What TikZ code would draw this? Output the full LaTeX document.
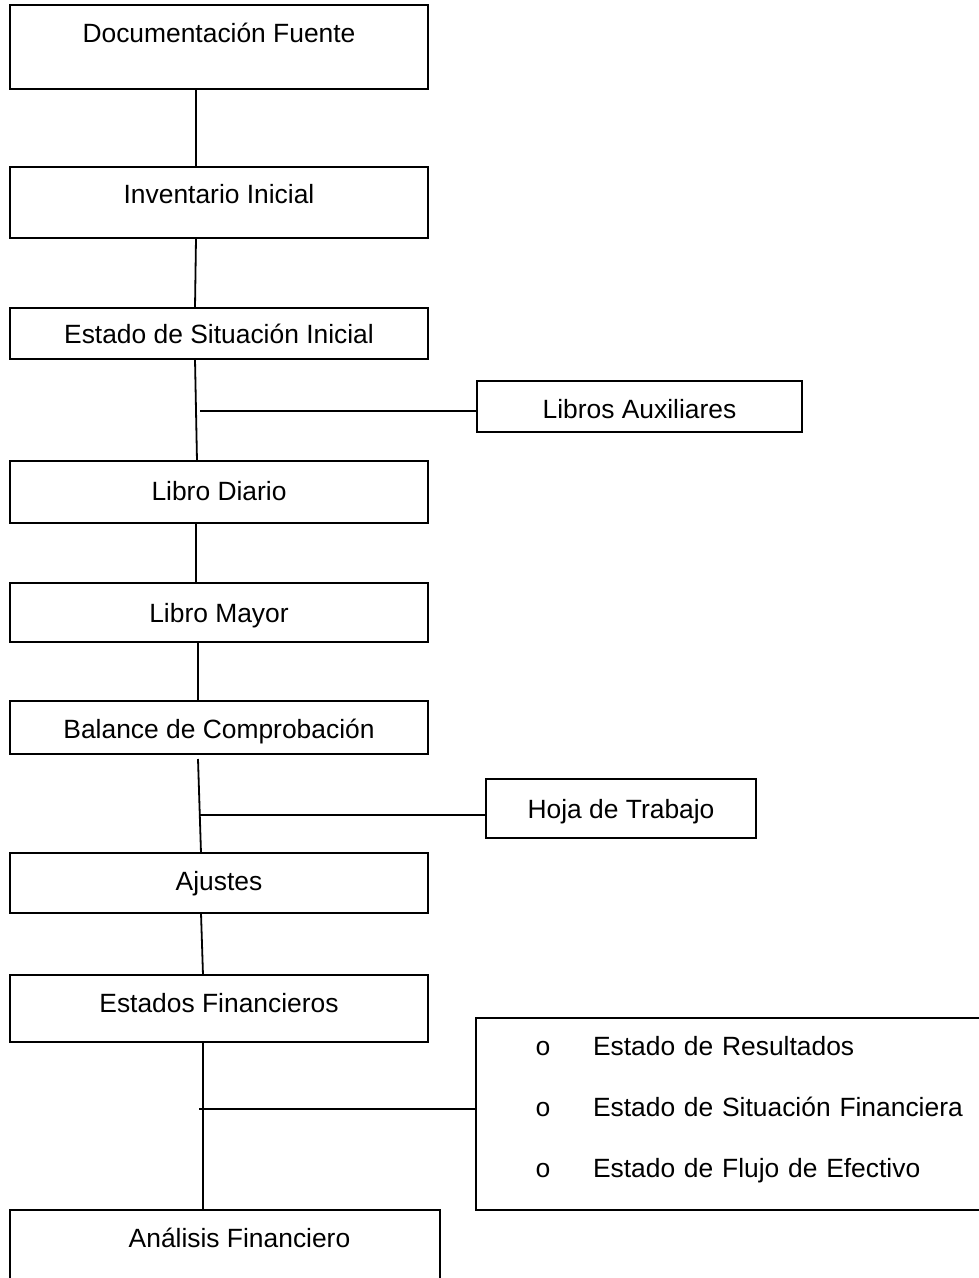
\documentclass[tikz,border=0pt]{standalone}
\usepackage{fontspec}
\setmainfont{Liberation Sans}
\newfontfamily\bulletfont{Liberation Mono}
\begin{document}
\begin{tikzpicture}[x=1pt,y=-1pt,
  stagebox/.style={draw, line width=1.8pt, inner sep=0pt, outer sep=0pt, anchor=north west,
    font=\fontsize{26.4}{32}\selectfont},
  link/.style={line width=1.8pt}]
\useasboundingbox (0,0) rectangle (979,1278);
% main column
\node[stagebox, minimum width=418pt, text height=37pt, text depth=47pt] (b1) at (10,5) {Documentación Fuente};
\node[stagebox, minimum width=418pt, text height=36pt, text depth=35pt] (b2) at (10,167) {Inventario Inicial};
\node[stagebox, minimum width=418pt, text height=35pt, text depth=16pt] (b3) at (10,308) {Estado de Situación Inicial};
\node[stagebox, minimum width=418pt, text height=39pt, text depth=23pt] (b4) at (10,461) {Libro Diario};
\node[stagebox, minimum width=418pt, text height=39pt, text depth=20pt] (b5) at (10,583) {Libro Mayor};
\node[stagebox, minimum width=418pt, text height=37pt, text depth=16pt] (b6) at (10,701) {Balance de Comprobación};
\node[stagebox, minimum width=418pt, text height=37pt, text depth=23pt] (b7) at (10,853) {Ajustes};
\node[stagebox, minimum width=418pt, text height=37pt, text depth=30pt] (b8) at (10,975) {Estados Financieros};
\node[stagebox, minimum width=430pt, text height=37pt, text depth=80pt] (b9) at (10,1210) {\hspace*{29pt}Análisis Financiero};
% side boxes
\node[stagebox, minimum width=325pt, text height=37pt, text depth=14pt] (aux) at (477,381) {Libros Auxiliares};
\node[stagebox, minimum width=270pt, text height=39pt, text depth=20pt] (ht) at (486,779) {Hoja de Trabajo};
\node[stagebox, text width=520pt, align=left, text height=37pt, text depth=155pt,
  font=\fontsize{26.4}{61}\selectfont] (rb) at (476,1018)
  {\makebox[117pt][l]{\hspace*{59pt}{\bulletfont o}}Estado de Resultados\\
   \makebox[117pt][l]{\hspace*{59pt}{\bulletfont o}}Estado de Situación Financiera\\
   \makebox[117pt][l]{\hspace*{59pt}{\bulletfont o}}Estado de Flujo de Efectivo};
% connectors
\draw[link] ([xshift=186pt]b1.south west) -- ([xshift=186pt]b2.north west);
\draw[link] ([xshift=186pt]b2.south west) -- ([xshift=185pt]b3.north west);
\draw[link] ([xshift=185pt]b3.south west) -- ([xshift=187pt]b4.north west);
\coordinate (j1) at (200,411);
\draw[link] (j1) -- (j1 -| aux.west);
\draw[link] ([xshift=186pt]b4.south west) -- ([xshift=186pt]b5.north west);
\draw[link] ([xshift=188pt]b5.south west) -- ([xshift=188pt]b6.north west);
\draw[link] ([xshift=188pt,yshift=-5pt]b6.south west) -- ([xshift=191pt]b7.north west);
\coordinate (j2) at (199,815);
\draw[link] (j2) -- (j2 -| ht.west);
\draw[link] ([xshift=191pt]b7.south west) -- ([xshift=193pt]b8.north west);
\draw[link] ([xshift=193pt]b8.south west) -- ([xshift=193pt]b9.north west);
\coordinate (j3) at (199,1109);
\draw[link] (j3) -- (j3 -| rb.west);
\end{tikzpicture}
\end{document}
